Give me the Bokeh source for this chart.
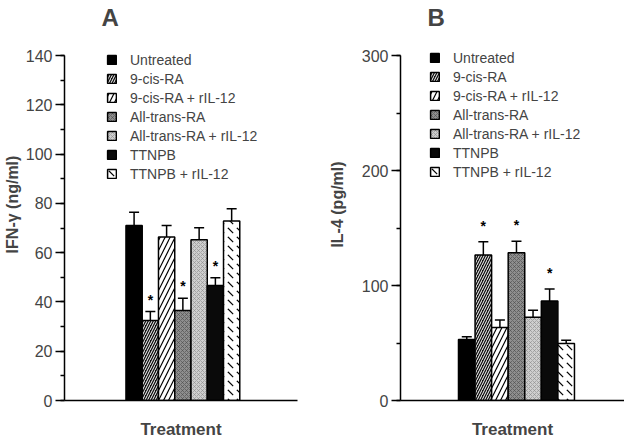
from bokeh.plotting import figure
from bokeh.layouts import row
from bokeh.models import (ColumnDataSource, Whisker, TeeHead, Range1d, Label,
                          SingleIntervalTicker, FixedTicker, Legend, LegendItem)
from bokeh.core.properties import value
from bokeh.embed import file_html
from bokeh.resources import INLINE

# ---------------- data ----------------
treatments = ["Untreated", "9-cis-RA", "9-cis-RA + rIL-12", "All-trans-RA",
              "All-trans-RA + rIL-12", "TTNPB", "TTNPB + rIL-12"]
ifn_mean = [71.0, 32.5, 66.3, 36.5, 65.2, 46.7, 72.8]
ifn_err = [76.4, 36.1, 71.0, 41.5, 70.1, 49.8, 77.8]
ifn_sig = [False, True, False, True, False, True, False]
il4_mean = [53.0, 126.5, 63.5, 128.5, 72.5, 86.5, 49.5]
il4_err = [55.5, 138.0, 70.0, 138.5, 78.5, 97.0, 52.5]
il4_sig = [False, True, False, True, False, True, False]

FONT = "Liberation Sans"

STYLES = [
    dict(fill_color="#000000"),
    dict(fill_color="#111111", hatch_pattern="/", hatch_color="#ffffff", hatch_scale=5, hatch_weight=1.0),
    dict(fill_color="#ffffff", hatch_pattern="/", hatch_color="#000000", hatch_scale=10, hatch_weight=1.2),
    dict(fill_color="#8e8e8e", hatch_pattern="x", hatch_color="#4a4a4a", hatch_scale=4, hatch_weight=0.6),
    dict(fill_color="#cfcfcf", hatch_pattern="x", hatch_color="#8a8a8a", hatch_scale=4, hatch_weight=0.6),
    dict(fill_color="#0a0a0a"),
    dict(fill_color="#ffffff", hatch_pattern="`", hatch_color="#000000", hatch_scale=9, hatch_weight=1.2),
]

H = 443
FRAME_H = 392          # frame height in px
AXIS_PX = 345          # pixel length of the drawn value axis


def panel(letter, ylabel, means, errs, sig, ymax, interval, xr, width,
          bl, br, title_x, legend_loc, star_off, ylab_standoff):
    ytop = ymax * FRAME_H / AXIS_PX
    p = figure(width=width, height=H, x_range=Range1d(*xr), y_range=Range1d(0, ytop),
               output_backend="svg", toolbar_location=None,
               min_border_left=bl, min_border_right=br,
               min_border_top=8, min_border_bottom=43)
    p.outline_line_color = None
    p.xgrid.visible = False
    p.ygrid.visible = False
    p.background_fill_color = "white"
    p.border_fill_color = "white"

    src = ColumnDataSource(dict(x=list(range(len(means))), top=means, err=errs))
    items = []
    for i, name in enumerate(treatments):
        r = p.vbar(x=[i], top=[means[i]], width=1.0, line_color="black",
                   line_width=1.5, **STYLES[i])
        items.append(LegendItem(label=name, renderers=[r]))

    w = Whisker(base="x", lower="top", upper="err", source=src,
                lower_head=None, upper_head=TeeHead(size=10, line_width=1.5),
                line_width=1.5, line_color="black")
    p.add_layout(w)

    sx = [i for i in range(len(means)) if sig[i]]
    sy = [errs[i] for i in range(len(means)) if sig[i]]
    p.text(x=sx, y=sy, text=["*"] * len(sx), text_align="center",
           text_baseline="middle", y_offset=star_off,
           text_font=value(FONT), text_font_size="14px", text_font_style="bold")

    leg = Legend(items=items, location=legend_loc, padding=0, margin=0,
                 spacing=0, glyph_width=11, glyph_height=11, label_height=19,
                 label_standoff=13, label_text_font=FONT,
                 label_text_font_size="14px", border_line_color=None,
                 background_fill_alpha=0)
    p.add_layout(leg, "center")

    p.add_layout(Label(x=title_x, y=FRAME_H - 9, x_units="screen", y_units="screen",
                       text=letter, text_font=FONT, text_font_size="24px",
                       text_font_style="bold", text_align="left",
                       text_baseline="alphabetic"))

    ya = p.yaxis[0]
    ya.bounds = (0, ymax)
    ya.ticker = SingleIntervalTicker(interval=interval, num_minor_ticks=2)
    ya.axis_label = ylabel
    ya.axis_label_text_font = FONT
    ya.axis_label_text_font_size = "16px"
    ya.axis_label_text_font_style = "bold"
    ya.axis_label_standoff = ylab_standoff
    ya.major_label_text_font = FONT
    ya.major_label_text_font_size = "16px"
    ya.major_label_standoff = 3
    ya.major_tick_out = 9
    ya.major_tick_in = 0
    ya.minor_tick_out = 4
    ya.minor_tick_in = 0
    ya.axis_line_width = 1.5
    ya.major_tick_line_width = 1.5
    ya.minor_tick_line_width = 1.5

    xa = p.xaxis[0]
    xa.ticker = FixedTicker(ticks=[])
    xa.axis_label = "Treatment"
    xa.axis_label_text_font = FONT
    xa.axis_label_text_font_size = "17px"
    xa.axis_label_text_font_style = "bold"
    xa.axis_label_standoff = 19
    xa.axis_line_width = 1.5
    xa.major_tick_out = 0
    xa.minor_tick_out = 0
    xa.major_label_standoff = 0
    xa.major_label_text_font_size = "0px"
    return p


pa = panel("A", "IFN-\u03b3 (ng/ml)", ifn_mean, ifn_err, ifn_sig, 140, 20,
           (-4.28, 10.05), 312, 62, 15, 37, (42, 217), -12, 2)
pb = panel("B", "IL-4 (pg/ml)", il4_mean, il4_err, il4_sig, 300, 100,
           (-4.0, 9.52), 312, 88, 0, 27, (29, 219), -16, 13)

layout = row(pa, pb, spacing=0)
open("out.html", "w").write(file_html(layout, INLINE))
